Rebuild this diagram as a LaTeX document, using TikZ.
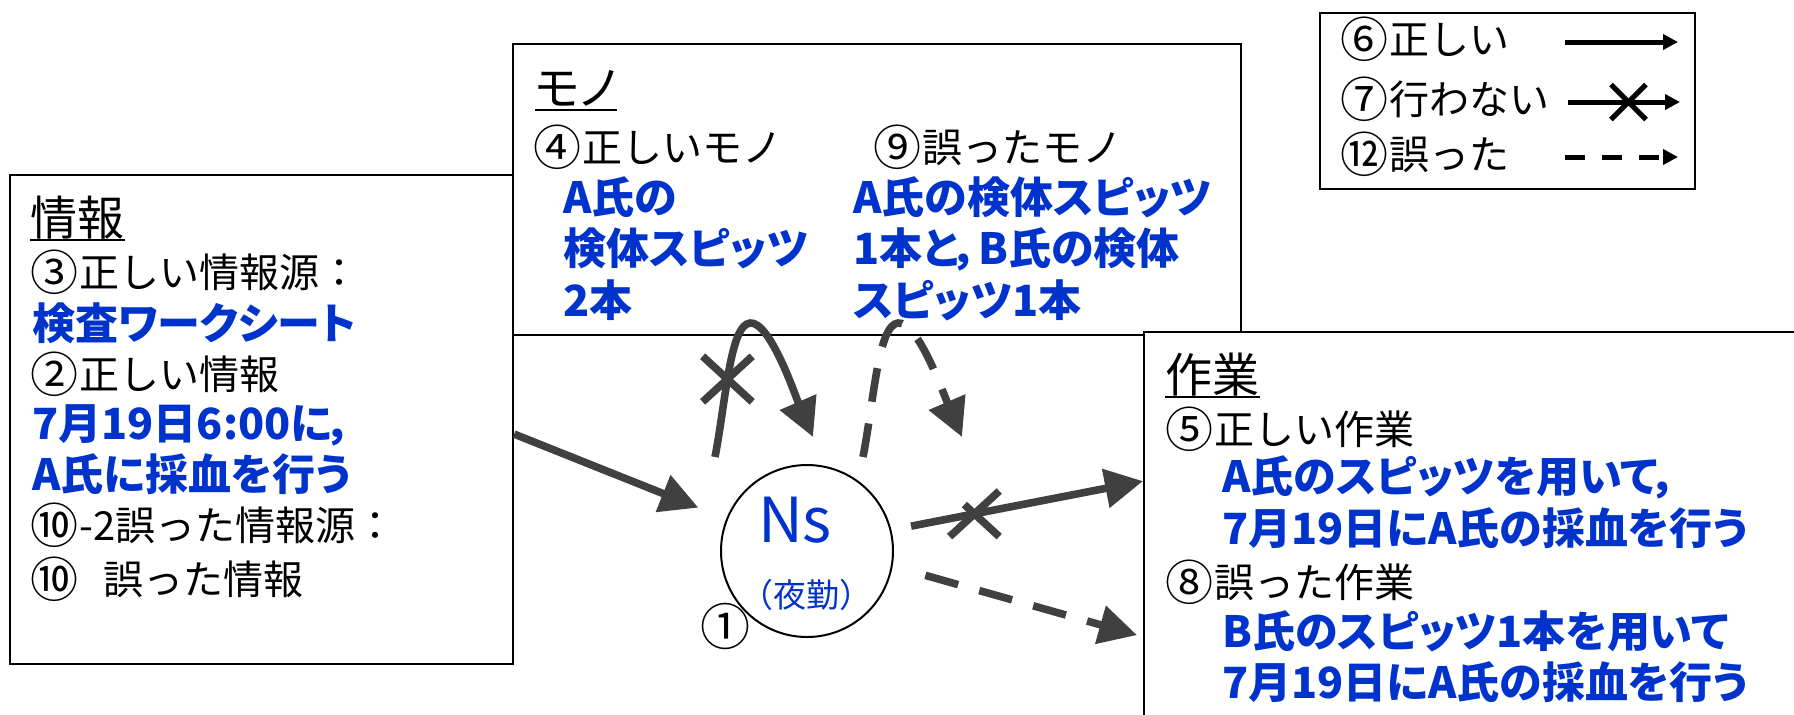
\documentclass[tikz,border=0pt]{standalone}
\usepackage{fontspec}
\setmainfont{Noto Sans CJK JP}
\newfontfamily\propfont{Noto Sans CJK JP}[RawFeature=+palt]
\usetikzlibrary{arrows.meta,shapes.misc}
\definecolor{txtblue}{RGB}{0,51,204}
\definecolor{arrgray}{RGB}{64,64,64}
\newcommand\circnum[1]{\raisebox{-1.5pt}{\fontsize{24pt}{24pt}\selectfont #1}\kern0.5pt}
\tikzset{
  panel/.style={draw=black, line width=1.1pt, fill=white, inner sep=0pt, anchor=north west},
  body/.style={anchor=base west, inner sep=0pt, font=\fontsize{20pt}{24pt}\selectfont},
  head/.style={anchor=base west, inner sep=0pt, font=\propfont\fontsize{23.5pt}{28pt}\selectfont},
  bluetxt/.style={anchor=base west, inner sep=0pt, text=txtblue, font=\propfont\bfseries\fontsize{21.5pt}{25pt}\selectfont},
  flow/.style={draw=arrgray, line width=3.8pt, -{Triangle[length=19pt,width=19pt]}},
  wrong/.style={flow, dash pattern=on 17pt off 11pt},
  xmark/.style={draw=arrgray, cross out, line width=3.8pt, minimum width=21pt, minimum height=19pt, inner sep=0pt},
  key/.style={draw=black, line width=2.5pt, -{Triangle[length=7.5pt,width=7.5pt]}},
  keyx/.style={draw=black, cross out, line width=2.5pt, minimum size=15pt, inner sep=0pt},
  uline/.style={line width=1.3pt},
}
\begin{document}
\begin{tikzpicture}[x=0.5pt,y=-0.5pt]
\useasboundingbox (0,0) rectangle (1794,714);
% panels
\node[panel, minimum width=251.5pt, minimum height=244.5pt] (info) at (9,174) {};
\node[panel, minimum width=364pt, minimum height=145.5pt] (mono) at (512,43) {};
\node[panel, minimum width=350pt, minimum height=200pt] (work) at (1143,331) {};
\node[panel, minimum width=187.5pt, minimum height=88pt] (legend) at (1319,12) {};
% info text
\node[head] (i0) at (30,235) {情報};
\node[body] (i1) at (30,287) {\circnum{③}正しい情報源：};
\node[bluetxt] (i2) at (32,339) {検査ワークシート};
\node[body] (i3) at (30,389) {\circnum{②}正しい情報};
\node[bluetxt] (i4) at (32,439) {7月19日6:00に，};
\node[bluetxt] (i5) at (32,490) {A氏に採血を行う};
\node[body] (i6) at (30,540) {\circnum{⑩}-2誤った情報源：};
\node[body] (i7) at (30,594) {\circnum{⑩}\hspace{12pt}誤った情報};
% mono text
\node[head] (m0) at (535,105) {モノ};
\node[body] (m1) at (533,162) {\circnum{④}正しいモノ};
\node[body] (m2) at (873,162) {\circnum{⑨}誤ったモノ};
\node[bluetxt] (m3) at (563,213) {A氏の};
\node[bluetxt] (m4) at (563,264) {検体スピッツ};
\node[bluetxt] (m5) at (563,316) {2本};
\node[bluetxt] (m6) at (853,213) {A氏の検体スピッツ};
\node[bluetxt] (m7) at (853,264) {1本と，B氏の検体};
\node[bluetxt] (m8) at (853,316) {スピッツ1本};
% work text
\node[head] (w0) at (1165,392) {作業};
\node[body] (w1) at (1165,444) {\circnum{⑤}正しい作業};
\node[bluetxt] (w2) at (1222,492) {A氏のスピッツを用いて，};
\node[bluetxt] (w3) at (1222,544) {7月19日にA氏の採血を行う};
\node[body] (w4) at (1165,597) {\circnum{⑧}誤った作業};
\node[bluetxt] (w5) at (1222,647) {B氏のスピッツ1本を用いて};
\node[bluetxt] (w6) at (1222,698) {7月19日にA氏の採血を行う};
% underlines
\foreach \h in {i0,m0,w0}
  \draw[uline] ([yshift=-2.5pt]\h.base west) -- ([yshift=-2.5pt]\h.base east);
% Ns
\node[draw=black, line width=1pt, circle, fill=white, minimum size=86pt, inner sep=0pt] (ns) at (807,551) {};
\node[anchor=base, inner sep=0pt, text=txtblue, font=\fontsize{31pt}{36pt}\selectfont] (nsname) at (795,542) {Ns};
\node[anchor=base, inner sep=0pt, text=txtblue, font=\fontsize{16.5pt}{19pt}\selectfont] (nsshift) at (806,607) {（夜勤）};
\node[anchor=base, inner sep=0pt, font=\fontsize{25pt}{26pt}\selectfont] (n1) at (725,645) {①};
% curve end points
\coordinate (s1) at ([shift={(-92,-94)}]ns.center);
\coordinate (p1) at ([shift={(-57,-228)}]ns.center);
\coordinate (t1) at ([shift={(6,-114)}]ns.center);
\coordinate (s2) at ([shift={(56,-94)}]ns.center);
\coordinate (p2) at ([shift={(91,-228)}]ns.center);
\coordinate (t2) at ([shift={(155,-114)}]ns.center);
% connectors
\draw[flow, shorten >=15pt] ([yshift=-7.25pt]info.east) -- (ns);
\draw[flow, shorten <=10pt] (ns.14.8) -- ([yshift=25.5pt]work.west) node[xmark, pos=0.33] (x2) {};
\draw[wrong, shorten <=17pt] (ns.-10) -- ([xshift=-3pt,yshift=-51.5pt]work.west);
\draw[flow] (s1) .. controls +(11,-57) and +(-20,2) .. (p1) node[xmark, pos=0.44] (x1) {}
  .. controls +(20,-2) and +(-18,-42) .. (t1);
\draw[wrong] (s2) .. controls +(11,-57) and +(-20,2) .. (p2)
  .. controls +(20,-2) and +(-18,-42) .. (t2);
% legend
\node[body] (k1) at (1340,54) {\circnum{⑥}正しい};
\node[body] (k2) at (1340,114) {\circnum{⑦}行わない};
\node[body] (k3) at (1340,169) {\circnum{⑫}誤った};
\coordinate (k1s) at (1565,42); \coordinate (k1e) at (1678,42);
\coordinate (k2s) at (1568,102); \coordinate (k2e) at (1680,102);
\coordinate (k3s) at (1565,157); \coordinate (k3e) at (1678,157);
\draw[key] (k1s) -- (k1e);
\draw[key] (k2s) -- (k2e) node[keyx, pos=0.54] (kx) {};
\draw[key, dash pattern=on 10pt off 8.5pt] (k3s) -- (k3e);
\end{tikzpicture}
\end{document}
